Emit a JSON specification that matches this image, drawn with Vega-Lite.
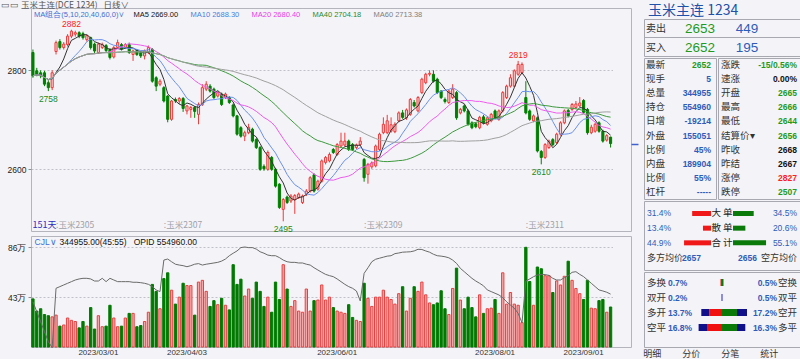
{
"$schema": "https://vega.github.io/schema/vega-lite/v6.json",
"background": "#f4f4f8",
"padding": 0,
"spacing": 3,
"config": {"font": "Liberation Sans", "view": {"stroke": null}, "axis": {"labelFont": "Liberation Sans"}},
"datasets": {
"k": [
{"d":"2023/02/06","o":2836,"h":2842,"l":2785,"c":2789,"v":415000,"oi":518000},
{"d":"2023/02/07","o":2799,"h":2805,"l":2788,"c":2792,"v":310000,"oi":470000},
{"d":"2023/02/08","o":2795,"h":2800,"l":2784,"c":2789,"v":330000,"oi":422000},
{"d":"2023/02/09","o":2795,"h":2799,"l":2768,"c":2772,"v":280000,"oi":374000},
{"d":"2023/02/10","o":2775,"h":2780,"l":2758,"c":2765,"v":270000,"oi":326000},
{"d":"2023/02/13","o":2765,"h":2800,"l":2760,"c":2795,"v":260000,"oi":297000},
{"d":"2023/02/14","o":2838,"h":2860,"l":2832,"c":2856,"v":275000,"oi":583000},
{"d":"2023/02/15","o":2858,"h":2863,"l":2842,"c":2846,"v":180000,"oi":591000},
{"d":"2023/02/16","o":2846,"h":2857,"l":2842,"c":2853,"v":190000,"oi":599000},
{"d":"2023/02/17","o":2852,"h":2873,"l":2848,"c":2869,"v":250000,"oi":607000},
{"d":"2023/02/20","o":2869,"h":2882,"l":2865,"c":2879,"v":230000,"oi":615000},
{"d":"2023/02/21","o":2873,"h":2880,"l":2868,"c":2876,"v":220000,"oi":623000},
{"d":"2023/02/22","o":2876,"h":2879,"l":2865,"c":2869,"v":165000,"oi":628000},
{"d":"2023/02/23","o":2874,"h":2878,"l":2862,"c":2866,"v":220000,"oi":631000},
{"d":"2023/02/24","o":2862,"h":2872,"l":2858,"c":2870,"v":180000,"oi":631000},
{"d":"2023/02/27","o":2866,"h":2868,"l":2842,"c":2846,"v":340000,"oi":628000},
{"d":"2023/02/28","o":2853,"h":2856,"l":2835,"c":2839,"v":155000,"oi":618000},
{"d":"2023/03/01","o":2836,"h":2856,"l":2833,"c":2853,"v":270000,"oi":618000},
{"d":"2023/03/02","o":2846,"h":2856,"l":2843,"c":2852,"v":175000,"oi":631000},
{"d":"2023/03/03","o":2850,"h":2853,"l":2837,"c":2840,"v":180000,"oi":615000},
{"d":"2023/03/06","o":2842,"h":2845,"l":2822,"c":2826,"v":360000,"oi":631000},
{"d":"2023/03/07","o":2827,"h":2849,"l":2824,"c":2846,"v":250000,"oi":623000},
{"d":"2023/03/08","o":2846,"h":2862,"l":2843,"c":2856,"v":175000,"oi":615000},
{"d":"2023/03/09","o":2852,"h":2855,"l":2840,"c":2843,"v":180000,"oi":615000},
{"d":"2023/03/10","o":2846,"h":2855,"l":2843,"c":2852,"v":250000,"oi":615000},
{"d":"2023/03/13","o":2852,"h":2856,"l":2833,"c":2836,"v":290000,"oi":615000},
{"d":"2023/03/14","o":2832,"h":2842,"l":2819,"c":2839,"v":290000,"oi":612000},
{"d":"2023/03/15","o":2840,"h":2843,"l":2829,"c":2832,"v":175000,"oi":612000},
{"d":"2023/03/16","o":2836,"h":2838,"l":2825,"c":2829,"v":185000,"oi":610000},
{"d":"2023/03/17","o":2829,"h":2842,"l":2822,"c":2839,"v":220000,"oi":607000},
{"d":"2023/03/20","o":2836,"h":2850,"l":2833,"c":2846,"v":300000,"oi":602000},
{"d":"2023/03/21","o":2842,"h":2845,"l":2775,"c":2778,"v":540000,"oi":591000},
{"d":"2023/03/22","o":2785,"h":2788,"l":2758,"c":2768,"v":480000,"oi":575000},
{"d":"2023/03/23","o":2772,"h":2782,"l":2768,"c":2778,"v":330000,"oi":567000},
{"d":"2023/03/24","o":2765,"h":2768,"l":2735,"c":2738,"v":590000,"oi":719000},
{"d":"2023/03/27","o":2748,"h":2750,"l":2695,"c":2701,"v":640000,"oi":724000},
{"d":"2023/03/28","o":2701,"h":2740,"l":2698,"c":2738,"v":490000,"oi":711000},
{"d":"2023/03/29","o":2741,"h":2745,"l":2734,"c":2738,"v":370000,"oi":699000},
{"d":"2023/03/30","o":2738,"h":2746,"l":2732,"c":2743,"v":430000,"oi":695000},
{"d":"2023/03/31","o":2743,"h":2746,"l":2716,"c":2723,"v":550000,"oi":692000},
{"d":"2023/04/03","o":2718,"h":2730,"l":2711,"c":2728,"v":530000,"oi":687000},
{"d":"2023/04/04","o":2721,"h":2728,"l":2704,"c":2725,"v":530000,"oi":692000},
{"d":"2023/04/06","o":2725,"h":2728,"l":2704,"c":2717,"v":275000,"oi":699000},
{"d":"2023/04/07","o":2711,"h":2735,"l":2691,"c":2731,"v":560000,"oi":702000},
{"d":"2023/04/10","o":2731,"h":2772,"l":2728,"c":2765,"v":575000,"oi":695000},
{"d":"2023/04/11","o":2762,"h":2778,"l":2758,"c":2772,"v":480000,"oi":699000},
{"d":"2023/04/12","o":2768,"h":2772,"l":2755,"c":2758,"v":350000,"oi":702000},
{"d":"2023/04/13","o":2762,"h":2765,"l":2742,"c":2745,"v":400000,"oi":705000},
{"d":"2023/04/14","o":2748,"h":2758,"l":2745,"c":2755,"v":365000,"oi":708000},
{"d":"2023/04/17","o":2752,"h":2755,"l":2728,"c":2731,"v":420000,"oi":714000},
{"d":"2023/04/18","o":2745,"h":2755,"l":2742,"c":2752,"v":360000,"oi":724000},
{"d":"2023/04/19","o":2745,"h":2748,"l":2732,"c":2735,"v":320000,"oi":740000},
{"d":"2023/04/20","o":2730,"h":2733,"l":2705,"c":2708,"v":710000,"oi":752000},
{"d":"2023/04/21","o":2708,"h":2710,"l":2668,"c":2671,"v":540000,"oi":763000},
{"d":"2023/04/24","o":2684,"h":2687,"l":2664,"c":2667,"v":585000,"oi":779000},
{"d":"2023/04/25","o":2667,"h":2678,"l":2657,"c":2674,"v":440000,"oi":782000},
{"d":"2023/04/26","o":2674,"h":2692,"l":2671,"c":2685,"v":500000,"oi":779000},
{"d":"2023/04/27","o":2681,"h":2684,"l":2654,"c":2657,"v":420000,"oi":779000},
{"d":"2023/04/28","o":2660,"h":2663,"l":2641,"c":2644,"v":560000,"oi":772000},
{"d":"2023/05/04","o":2644,"h":2647,"l":2597,"c":2600,"v":480000,"oi":759000},
{"d":"2023/05/05","o":2606,"h":2610,"l":2597,"c":2601,"v":350000,"oi":752000},
{"d":"2023/05/08","o":2600,"h":2638,"l":2597,"c":2634,"v":430000,"oi":743000},
{"d":"2023/05/09","o":2624,"h":2627,"l":2597,"c":2600,"v":300000,"oi":740000},
{"d":"2023/05/10","o":2600,"h":2603,"l":2563,"c":2566,"v":560000,"oi":740000},
{"d":"2023/05/11","o":2570,"h":2572,"l":2520,"c":2523,"v":410000,"oi":731000},
{"d":"2023/05/12","o":2519,"h":2542,"l":2495,"c":2539,"v":710000,"oi":719000},
{"d":"2023/05/15","o":2544,"h":2547,"l":2530,"c":2533,"v":500000,"oi":711000},
{"d":"2023/05/16","o":2536,"h":2550,"l":2532,"c":2546,"v":350000,"oi":708000},
{"d":"2023/05/17","o":2539,"h":2550,"l":2510,"c":2547,"v":400000,"oi":708000},
{"d":"2023/05/18","o":2543,"h":2553,"l":2540,"c":2550,"v":310000,"oi":705000},
{"d":"2023/05/19","o":2533,"h":2549,"l":2530,"c":2546,"v":300000,"oi":705000},
{"d":"2023/05/22","o":2550,"h":2560,"l":2546,"c":2556,"v":500000,"oi":699000},
{"d":"2023/05/23","o":2556,"h":2586,"l":2553,"c":2583,"v":310000,"oi":695000},
{"d":"2023/05/24","o":2589,"h":2592,"l":2553,"c":2556,"v":400000,"oi":682000},
{"d":"2023/05/25","o":2560,"h":2579,"l":2557,"c":2576,"v":405000,"oi":671000},
{"d":"2023/05/26","o":2576,"h":2620,"l":2573,"c":2617,"v":535000,"oi":660000},
{"d":"2023/05/29","o":2614,"h":2627,"l":2610,"c":2624,"v":405000,"oi":650000},
{"d":"2023/05/30","o":2617,"h":2634,"l":2614,"c":2630,"v":430000,"oi":644000},
{"d":"2023/05/31","o":2640,"h":2643,"l":2631,"c":2634,"v":340000,"oi":639000},
{"d":"2023/06/01","o":2630,"h":2653,"l":2627,"c":2650,"v":310000,"oi":628000},
{"d":"2023/06/02","o":2647,"h":2674,"l":2644,"c":2657,"v":300000,"oi":615000},
{"d":"2023/06/05","o":2649,"h":2674,"l":2646,"c":2657,"v":290000,"oi":602000},
{"d":"2023/06/06","o":2657,"h":2660,"l":2637,"c":2640,"v":365000,"oi":591000},
{"d":"2023/06/07","o":2650,"h":2653,"l":2637,"c":2640,"v":255000,"oi":583000},
{"d":"2023/06/08","o":2644,"h":2652,"l":2641,"c":2649,"v":230000,"oi":570000},
{"d":"2023/06/09","o":2650,"h":2665,"l":2647,"c":2657,"v":220000,"oi":522000},
{"d":"2023/06/12","o":2620,"h":2623,"l":2575,"c":2583,"v":550000,"oi":655000},
{"d":"2023/06/13","o":2590,"h":2613,"l":2571,"c":2610,"v":420000,"oi":682000},
{"d":"2023/06/14","o":2605,"h":2616,"l":2601,"c":2613,"v":350000,"oi":711000},
{"d":"2023/06/15","o":2607,"h":2650,"l":2604,"c":2647,"v":430000,"oi":723000},
{"d":"2023/06/16","o":2640,"h":2674,"l":2637,"c":2671,"v":430000,"oi":728000},
{"d":"2023/06/19","o":2674,"h":2705,"l":2671,"c":2691,"v":490000,"oi":733000},
{"d":"2023/06/20","o":2674,"h":2710,"l":2671,"c":2698,"v":430000,"oi":738000},
{"d":"2023/06/21","o":2677,"h":2705,"l":2674,"c":2690,"v":410000,"oi":740000},
{"d":"2023/06/26","o":2676,"h":2695,"l":2673,"c":2691,"v":370000,"oi":750000},
{"d":"2023/06/27","o":2698,"h":2717,"l":2695,"c":2714,"v":460000,"oi":753000},
{"d":"2023/06/28","o":2714,"h":2720,"l":2702,"c":2705,"v":520000,"oi":757000},
{"d":"2023/06/29","o":2704,"h":2723,"l":2700,"c":2720,"v":310000,"oi":758000},
{"d":"2023/06/30","o":2711,"h":2744,"l":2708,"c":2741,"v":420000,"oi":759000},
{"d":"2023/07/03","o":2735,"h":2740,"l":2725,"c":2728,"v":520000,"oi":763000},
{"d":"2023/07/04","o":2718,"h":2748,"l":2715,"c":2745,"v":480000,"oi":771000},
{"d":"2023/07/05","o":2755,"h":2785,"l":2752,"c":2782,"v":560000,"oi":770000},
{"d":"2023/07/06","o":2775,"h":2795,"l":2772,"c":2792,"v":450000,"oi":763000},
{"d":"2023/07/07","o":2792,"h":2800,"l":2788,"c":2794,"v":380000,"oi":757000},
{"d":"2023/07/10","o":2792,"h":2800,"l":2775,"c":2778,"v":365000,"oi":747000},
{"d":"2023/07/11","o":2782,"h":2785,"l":2752,"c":2755,"v":380000,"oi":740000},
{"d":"2023/07/12","o":2758,"h":2760,"l":2742,"c":2745,"v":485000,"oi":738000},
{"d":"2023/07/13","o":2741,"h":2745,"l":2733,"c":2737,"v":330000,"oi":735000},
{"d":"2023/07/14","o":2735,"h":2761,"l":2732,"c":2758,"v":280000,"oi":730000},
{"d":"2023/07/17","o":2745,"h":2772,"l":2742,"c":2762,"v":505000,"oi":719000},
{"d":"2023/07/18","o":2755,"h":2758,"l":2700,"c":2704,"v":680000,"oi":703000},
{"d":"2023/07/19","o":2714,"h":2724,"l":2711,"c":2721,"v":405000,"oi":679000},
{"d":"2023/07/20","o":2728,"h":2731,"l":2715,"c":2718,"v":330000,"oi":663000},
{"d":"2023/07/21","o":2718,"h":2721,"l":2688,"c":2691,"v":430000,"oi":647000},
{"d":"2023/07/24","o":2694,"h":2697,"l":2681,"c":2684,"v":340000,"oi":631000},
{"d":"2023/07/25","o":2692,"h":2695,"l":2683,"c":2686,"v":260000,"oi":618000},
{"d":"2023/07/26","o":2684,"h":2708,"l":2681,"c":2705,"v":450000,"oi":607000},
{"d":"2023/07/27","o":2706,"h":2710,"l":2691,"c":2694,"v":290000,"oi":595000},
{"d":"2023/07/28","o":2691,"h":2707,"l":2688,"c":2704,"v":330000,"oi":575000},
{"d":"2023/07/31","o":2698,"h":2714,"l":2695,"c":2711,"v":335000,"oi":567000},
{"d":"2023/08/01","o":2718,"h":2721,"l":2701,"c":2704,"v":410000,"oi":559000},
{"d":"2023/08/02","o":2701,"h":2721,"l":2698,"c":2718,"v":290000,"oi":551000},
{"d":"2023/08/03","o":2718,"h":2758,"l":2715,"c":2755,"v":640000,"oi":538000},
{"d":"2023/08/04","o":2745,"h":2771,"l":2742,"c":2768,"v":370000,"oi":518000},
{"d":"2023/08/07","o":2768,"h":2792,"l":2765,"c":2785,"v":470000,"oi":502000},
{"d":"2023/08/08","o":2768,"h":2802,"l":2765,"c":2799,"v":370000,"oi":487000},
{"d":"2023/08/09","o":2792,"h":2819,"l":2789,"c":2812,"v":360000,"oi":462000},
{"d":"2023/08/10","o":2795,"h":2816,"l":2792,"c":2812,"v":210000,"oi":417000},
{"d":"2023/08/11","o":2745,"h":2778,"l":2711,"c":2714,"v":860000,"oi":618000},
{"d":"2023/08/14","o":2718,"h":2721,"l":2698,"c":2701,"v":565000,"oi":628000},
{"d":"2023/08/15","o":2698,"h":2711,"l":2695,"c":2708,"v":360000,"oi":639000},
{"d":"2023/08/16","o":2704,"h":2707,"l":2634,"c":2637,"v":690000,"oi":647000},
{"d":"2023/08/17","o":2636,"h":2639,"l":2610,"c":2624,"v":675000,"oi":649000},
{"d":"2023/08/18","o":2624,"h":2653,"l":2621,"c":2650,"v":615000,"oi":649000},
{"d":"2023/08/21","o":2644,"h":2660,"l":2641,"c":2657,"v":615000,"oi":645000},
{"d":"2023/08/22","o":2660,"h":2663,"l":2647,"c":2650,"v":470000,"oi":631000},
{"d":"2023/08/23","o":2654,"h":2674,"l":2651,"c":2671,"v":570000,"oi":623000},
{"d":"2023/08/24","o":2671,"h":2697,"l":2668,"c":2694,"v":535000,"oi":623000},
{"d":"2023/08/25","o":2694,"h":2721,"l":2691,"c":2718,"v":610000,"oi":634000},
{"d":"2023/08/28","o":2719,"h":2722,"l":2705,"c":2708,"v":740000,"oi":644000},
{"d":"2023/08/29","o":2721,"h":2734,"l":2718,"c":2731,"v":575000,"oi":660000},
{"d":"2023/08/30","o":2725,"h":2738,"l":2722,"c":2732,"v":505000,"oi":663000},
{"d":"2023/08/31","o":2728,"h":2746,"l":2725,"c":2734,"v":460000,"oi":650000},
{"d":"2023/09/01","o":2739,"h":2742,"l":2712,"c":2715,"v":410000,"oi":639000},
{"d":"2023/09/04","o":2721,"h":2724,"l":2670,"c":2674,"v":575000,"oi":623000},
{"d":"2023/09/05","o":2674,"h":2690,"l":2671,"c":2685,"v":335000,"oi":607000},
{"d":"2023/09/06","o":2677,"h":2694,"l":2674,"c":2691,"v":330000,"oi":591000},
{"d":"2023/09/07","o":2694,"h":2697,"l":2674,"c":2677,"v":400000,"oi":575000},
{"d":"2023/09/08","o":2677,"h":2680,"l":2654,"c":2657,"v":410000,"oi":570000},
{"d":"2023/09/11","o":2659,"h":2671,"l":2656,"c":2668,"v":300000,"oi":564000},
{"d":"2023/09/12","o":2665,"h":2666,"l":2644,"c":2652,"v":344955,"oi":554960}
],
"ma": [
{"k":"m5","label":"MA5 2669.00"},{"k":"m10","label":"MA10 2688.30"},{"k":"m20","label":"MA20 2680.40"},{"k":"m40","label":"MA40 2704.18"},{"k":"m60","label":"MA60 2713.38"}
],
"ext": [
{"d":"2023/02/20","p":2882,"t":"H"},{"d":"2023/08/09","p":2819,"t":"H"},{"d":"2023/02/10","p":2758,"t":"L"},{"d":"2023/05/12","p":2495,"t":"L"},{"d":"2023/08/17","p":2610,"t":"L"}
],
"tbl": [
{"side":"L","row":1,"k":"最新","v":"2652","t":"g"},
{"side":"L","row":2,"k":"现手","v":"5","t":"b"},
{"side":"L","row":3,"k":"总量","v":"344955","t":"b"},
{"side":"L","row":4,"k":"持仓","v":"554960","t":"b"},
{"side":"L","row":5,"k":"日增","v":"-19214","t":"b"},
{"side":"L","row":6,"k":"外盘","v":"155051","t":"b"},
{"side":"L","row":7,"k":"比例","v":"45%","t":"b"},
{"side":"L","row":8,"k":"内盘","v":"189904","t":"b"},
{"side":"L","row":9,"k":"比例","v":"55%","t":"b"},
{"side":"L","row":10,"k":"杠杆","v":"-----","t":"b"},
{"side":"R","row":1,"k":"涨跌","v":"-15/0.56%","t":"g"},
{"side":"R","row":2,"k":"速涨","v":"0.00%","t":"k"},
{"side":"R","row":3,"k":"开盘","v":"2665","t":"g"},
{"side":"R","row":4,"k":"最高","v":"2666","t":"g"},
{"side":"R","row":5,"k":"最低","v":"2644","t":"g"},
{"side":"R","row":6,"k":"结算价▾","v":"2656","t":"g"},
{"side":"R","row":7,"k":"昨收","v":"2668","t":"k"},
{"side":"R","row":8,"k":"昨结","v":"2667","t":"k"},
{"side":"R","row":9,"k":"涨停","v":"2827","t":"r"},
{"side":"R","row":10,"k":"跌停","v":"2507","t":"g"}
],
"ord": [
{"r":"大单","n":"大 单","b":0.314,"s":0.345},
{"r":"散单","n":"散 单","b":0.134,"s":0.206},
{"r":"合计","n":"合 计","b":0.449,"s":0.551},
{"r":"均价","a":"多方均价","av":2657,"bv":2656,"bl":"空方均价"}
],
"pos": [
{"r":"多换","lv":0.007,"rv":0.005,"rl":"空换"},
{"r":"双开","lv":0.002,"rv":0.005,"rl":"双平"},
{"r":"多开","lv":0.137,"rv":0.172,"rl":"空开"},
{"r":"空平","lv":0.168,"rv":0.163,"rl":"多平"}
],
"seg": [
{"r":"多换","a":-1.5,"b":0,"k":"r"},{"r":"多换","a":0,"b":1.5,"k":"g"},
{"r":"双开","a":-1,"b":1,"k":"p"},
{"r":"多开","a":-20.7,"b":-12.4,"k":"n"},{"r":"多开","a":-12.4,"b":0,"k":"r"},{"r":"多开","a":0,"b":15,"k":"g"},{"r":"多开","a":15,"b":25,"k":"n"},
{"r":"空平","a":-23.4,"b":-15,"k":"n"},{"r":"空平","a":-15,"b":0,"k":"r"},{"r":"空平","a":0,"b":15,"k":"g"},{"r":"空平","a":15,"b":23.3,"k":"n"}
]
},
"hconcat": [
{
"spacing": 0,
"vconcat": [
{
"title": {"text": "▭▭ 玉米主连(DCE 1234)\u00a0\u00a0\u00a0日线∨", "anchor": "start", "fontSize": 8.5, "font": "Noto Sans CJK SC", "fontWeight": "normal", "color": "#555555", "offset": 1, "dy": 2, "frame": "bounds"},
"width": 600, "height": 223,
"view": {"stroke": "#b4b4bc"},
"data": {"name": "k"},
"encoding": {
"x": {"field": "d", "type": "ordinal", "scale": {"range": [0, 581.5], "paddingInner": 0, "paddingOuter": 0},
"axis": {"values": ["2023/02/14","2023/03/24","2023/06/12","2023/08/11"],
"labelExpr": "datum.value=='2023/02/14'?':玉米2305':datum.value=='2023/03/24'?':玉米2307':datum.value=='2023/06/12'?':玉米2309':':玉米2311'",
"bandPosition": 0, "ticks": false, "domain": false, "grid": false, "labelPadding": -11, "labelAlign": "left", "labelBaseline": "top", "labelAngle": 0,
"labelColor": "#a0a0a8", "labelFontSize": 8.5, "labelFont": "Noto Sans CJK SC", "labelOverlap": false, "labelFlush": false, "minExtent": 0, "maxExtent": 0,
"title": "151天", "titleX": 1, "titleY": -11, "titleAlign": "left", "titleBaseline": "top", "titleColor": "#2c2cc0", "titleFontSize": 9, "titleFontWeight": "normal", "titleFont": "Noto Sans CJK SC"}}
},
"layer": [
{"mark": {"type": "rule", "strokeWidth": 1},
"encoding": {
"y": {"field": "l", "type": "quantitative", "scale": {"domain": [2475.4, 2925.9], "nice": false, "zero": false},
"axis": {"orient": "left", "values": [2600, 2800], "format": "d", "grid": true, "gridDash": [2, 2], "gridColor": "#c0c0c8", "domain": false, "ticks": true, "tickSize": 3, "tickColor": "#909090", "labelFontSize": 8.5, "labelColor": "#222222", "labelPadding": 2, "title": null, "minExtent": 30, "maxExtent": 30}},
"y2": {"field": "h"},
"stroke": {"condition": {"test": "datum.c >= datum.o", "value": "#ee3a3a"}, "value": "#008000"}
}},
{"mark": {"type": "bar", "width": {"band": 0.55}, "strokeWidth": 1},
"encoding": {
"y": {"field": "o", "type": "quantitative", "scale": {"domain": [2475.4, 2925.9], "nice": false, "zero": false},
"axis": {"orient": "right", "values": [2652], "labels": false, "domain": false, "grid": false, "ticks": true, "tickSize": 7, "tickWidth": 1.5, "tickColor": "#4060d0", "title": null, "minExtent": 7, "maxExtent": 7}},
"y2": {"field": "c"},
"fill": {"condition": {"test": "datum.c >= datum.o", "value": "#fbd0d0"}, "value": "#008000"},
"stroke": {"condition": {"test": "datum.c >= datum.o", "value": "#ee3a3a"}, "value": "#008000"}
}},
{"transform": [
{"window": [{"op": "mean", "field": "c", "as": "m5"}], "frame": [-4, 0], "sort": [{"field": "d"}]},
{"window": [{"op": "mean", "field": "c", "as": "m10"}], "frame": [-9, 0], "sort": [{"field": "d"}]},
{"window": [{"op": "mean", "field": "c", "as": "m20"}], "frame": [-19, 0], "sort": [{"field": "d"}]},
{"window": [{"op": "mean", "field": "c", "as": "m40"}], "frame": [-39, 0], "sort": [{"field": "d"}]},
{"window": [{"op": "mean", "field": "c", "as": "m60"}], "frame": [-59, 0], "sort": [{"field": "d"}]},
{"fold": ["m5", "m10", "m20", "m40", "m60"], "as": ["k", "val"]},
{"lookup": "k", "from": {"data": {"name": "ma"}, "key": "k", "fields": ["label"]}}
],
"mark": {"type": "line", "strokeWidth": 1},
"encoding": {
"y": {"field": "val", "type": "quantitative", "scale": {"domain": [2475.4, 2925.9], "nice": false, "zero": false}, "axis": null},
"color": {"field": "label", "type": "nominal",
"scale": {"domain": ["MA5 2669.00","MA10 2688.30","MA20 2680.40","MA40 2704.18","MA60 2713.38"], "range": ["#333333","#6a90ec","#ee5aee","#3c9a3c","#a0a0a0"]},
"legend": {"orient": "none", "legendX": 3, "legendY": 3, "direction": "horizontal", "title": "MA组合(5,10,20,40,60,0)∨", "titleOrient": "left", "titleColor": "#3c6fd6", "titleFontSize": 7.5, "titleFontWeight": "normal", "titlePadding": 1, "titleBaseline": "middle", "titleAnchor": "middle",
"labelFontSize": 7.5, "labelOffset": 0, "symbolSize": 0, "symbolStrokeWidth": 0, "columnPadding": 4, "padding": 0,
"labelColor": {"expr": "datum.value=='MA5 2669.00'?'#111111':datum.value=='MA10 2688.30'?'#4a7ee0':datum.value=='MA20 2680.40'?'#e83ce8':datum.value=='MA40 2704.18'?'#2a8a2a':'#808080'"}}}
}},
{"data": {"name": "ext"}, "transform": [{"filter": "datum.t == 'H'"}],
"mark": {"type": "text", "dy": -6, "fontSize": 8.5, "fill": "#ff2020"},
"encoding": {"y": {"field": "p", "type": "quantitative", "scale": {"domain": [2475.4, 2925.9], "nice": false, "zero": false}, "axis": null}, "text": {"field": "p", "type": "quantitative", "format": "d"}}},
{"data": {"name": "ext"}, "transform": [{"filter": "datum.t == 'L'"}],
"mark": {"type": "text", "dy": 8, "fontSize": 8.5, "fill": "#1a8a1a"},
"encoding": {"y": {"field": "p", "type": "quantitative", "scale": {"domain": [2475.4, 2925.9], "nice": false, "zero": false}, "axis": null}, "text": {"field": "p", "type": "quantitative", "format": "d"}}}
],
"resolve": {"axis": {"y": "independent"}}
},
{
"width": 600, "height": 111,
"view": {"stroke": "#b4b4bc"},
"data": {"name": "k"},
"encoding": {
"x": {"field": "d", "type": "ordinal", "scale": {"range": [0, 581.5], "paddingInner": 0, "paddingOuter": 0},
"axis": {"values": ["2023/03/01","2023/04/03","2023/06/01","2023/08/01","2023/09/01"], "ticks": false, "domain": false, "grid": false, "labelAngle": 0, "labelFontSize": 8, "labelColor": "#333333", "labelPadding": 1, "labelOverlap": false, "title": null}}
},
"layer": [
{"mark": {"type": "bar", "width": {"band": 0.6}, "strokeWidth": 1},
"encoding": {
"y": {"field": "v", "type": "quantitative", "scale": {"domain": [0, 957500], "nice": false},
"axis": {"orient": "left", "values": [430000, 860000], "labelExpr": "(datum.value/10000) + '万'", "grid": true, "gridDash": [2, 2], "gridColor": "#c0c0c8", "domain": false, "tickSize": 3, "tickColor": "#909090", "labelFontSize": 8.5, "labelColor": "#222222", "labelPadding": 2, "minExtent": 30, "maxExtent": 30,
"title": "CJL∨", "titleAngle": 0, "titleX": 3, "titleY": 5, "titleAlign": "left", "titleBaseline": "middle", "titleColor": "#3c6fd6", "titleFontSize": 8.5, "titleFontWeight": "normal"}},
"fill": {"condition": {"test": "datum.c >= datum.o", "value": "#f6a8a8"}, "value": "#007a00"},
"stroke": {"condition": {"test": "datum.c >= datum.o", "value": "#e84040"}, "value": "#007a00"}
}},
{"mark": {"type": "line", "strokeWidth": 1, "color": "#6a6a6a"},
"encoding": {
"y": {"field": "oi", "type": "quantitative", "scale": {"domain": [300000, 835000], "nice": false, "zero": false},
"axis": {"orient": "right", "labels": false, "ticks": false, "domain": false, "grid": false, "title": "344955.00(45:55)\u00a0\u00a0\u00a0OPID 554960.00", "titleAngle": 0, "titleX": -572, "titleY": 5, "titleAlign": "left", "titleBaseline": "middle", "titleColor": "#111111", "titleFontSize": 8.5, "titleFontWeight": "normal", "minExtent": 0, "maxExtent": 0}}
}}
],
"resolve": {"scale": {"y": "independent"}}
}
]
},
{
"spacing": 0,
"vconcat": [
{"width": 156, "height": 8, "data": {"values": [{"name": "玉米主连\u00a01234"}]},
"mark": {"type": "text", "align": "left", "dx": -74, "dy": -1, "fontSize": 14, "font": "Noto Sans CJK SC", "fill": "#2050a8"},
"encoding": {"text": {"field": "name"}}},
{"width": 156, "height": 37, "view": {"stroke": "#a8a8b0"},
"data": {"values": [{"r": "卖出", "p": 2653, "q": 449}, {"r": "买入", "p": 2652, "q": 195}]},
"encoding": {"y": {"field": "r", "type": "nominal", "scale": {"domain": ["卖出", "买入"], "paddingInner": 0, "paddingOuter": 0}, "axis": null}},
"layer": [
{"mark": {"type": "text", "align": "left", "dx": -76, "dy": 1, "fontSize": 10, "font": "Noto Sans CJK SC", "fill": "#333333"}, "encoding": {"text": {"field": "r"}}},
{"mark": {"type": "text", "align": "center", "dx": -22, "dy": 1, "fontSize": 13.5, "fill": "#1f9a1f"}, "encoding": {"text": {"field": "p", "type": "quantitative", "format": "d"}}},
{"mark": {"type": "text", "align": "center", "dx": 25, "dy": 1, "fontSize": 13.5, "fill": "#2e5cb8"}, "encoding": {"text": {"field": "q", "type": "quantitative", "format": "d"}}},
{"transform": [{"filter": "datum.r == '卖出'"}], "mark": {"type": "rule", "color": "#a8a8b0"}, "encoding": {"y": {"field": "r", "type": "nominal", "bandPosition": 1}}}
]},
{"spacing": 0, "hconcat": [
{"width": 72, "height": 141, "view": {"stroke": "#a8a8b0"}, "data": {"name": "tbl"}, "transform": [{"filter": "datum.side == 'L'"}],
"encoding": {"y": {"field": "row", "type": "ordinal", "scale": {"paddingInner": 0, "paddingOuter": 0}, "axis": null}},
"layer": [
{"mark": {"type": "text", "align": "left", "dx": -34, "fontSize": 9.5, "font": "Noto Sans CJK SC", "fill": "#333333"}, "encoding": {"text": {"field": "k"}}},
{"mark": {"type": "text", "align": "right", "dx": 31, "fontSize": 8.5, "fontWeight": "bold"}, "encoding": {"text": {"field": "v"},
"fill": {"condition": [{"test": "datum.t == 'g'", "value": "#1f9a1f"}, {"test": "datum.t == 'r'", "value": "#ff2020"}, {"test": "datum.t == 'k'", "value": "#111111"}], "value": "#2e5cb8"}}}
]},
{"width": 84, "height": 141, "view": {"stroke": "#a8a8b0"}, "data": {"name": "tbl"}, "transform": [{"filter": "datum.side == 'R'"}],
"encoding": {"y": {"field": "row", "type": "ordinal", "scale": {"paddingInner": 0, "paddingOuter": 0}, "axis": null}},
"layer": [
{"mark": {"type": "text", "align": "left", "dx": -39, "fontSize": 9.5, "font": "Noto Sans CJK SC", "fill": "#333333"}, "encoding": {"text": {"field": "k"}}},
{"mark": {"type": "text", "align": "right", "dx": 37, "fontSize": 8.5, "fontWeight": "bold"}, "encoding": {"text": {"field": "v"},
"fill": {"condition": [{"test": "datum.t == 'g'", "value": "#1f9a1f"}, {"test": "datum.t == 'r'", "value": "#ff2020"}, {"test": "datum.t == 'k'", "value": "#111111"}], "value": "#2e5cb8"}}}
]}
]},
{"width": 156, "height": 69, "view": {"stroke": "#a8a8b0"}, "data": {"name": "ord"},
"encoding": {"y": {"field": "r", "type": "nominal", "scale": {"domain": ["大单", "散单", "合计", "均价"], "paddingInner": 0, "paddingOuter": 0.35}, "axis": null}},
"layer": [
{"transform": [{"filter": "isValid(datum.b)"}], "mark": {"type": "bar", "height": 5, "fill": "#f01818"},
"encoding": {"x": {"field": "b", "type": "quantitative", "scale": {"domain": [0, 1], "range": [67, 7]}, "axis": null}, "x2": {"datum": 0}}},
{"transform": [{"filter": "isValid(datum.s)"}], "mark": {"type": "bar", "height": 5, "fill": "#0a7a0a"},
"encoding": {"x": {"field": "s", "type": "quantitative", "scale": {"domain": [0, 1], "range": [89, 149]}, "axis": null}, "x2": {"datum": 0}}},
{"transform": [{"filter": "isValid(datum.b)"}], "mark": {"type": "text", "align": "left", "dx": -75, "fontSize": 8.5, "fill": "#2e5cb8"}, "encoding": {"text": {"field": "b", "type": "quantitative", "format": ".1%"}}},
{"transform": [{"filter": "isValid(datum.s)"}], "mark": {"type": "text", "align": "right", "dx": 75, "fontSize": 8.5, "fill": "#2e5cb8"}, "encoding": {"text": {"field": "s", "type": "quantitative", "format": ".1%"}}},
{"transform": [{"filter": "isValid(datum.n)"}], "mark": {"type": "text", "align": "center", "fontSize": 9.5, "font": "Noto Sans CJK SC", "fill": "#222222"}, "encoding": {"text": {"field": "n"}}},
{"transform": [{"filter": "isValid(datum.a)"}], "mark": {"type": "text", "align": "left", "dx": -75, "fontSize": 9, "font": "Noto Sans CJK SC", "fill": "#333333"}, "encoding": {"text": {"field": "a"}}},
{"transform": [{"filter": "isValid(datum.av)"}], "mark": {"type": "text", "align": "left", "dx": -40, "fontSize": 8.5, "fontWeight": "bold", "fill": "#2e5cb8"}, "encoding": {"text": {"field": "av", "type": "quantitative", "format": "d"}}},
{"transform": [{"filter": "isValid(datum.bv)"}], "mark": {"type": "text", "align": "right", "dx": 35, "fontSize": 8.5, "fontWeight": "bold", "fill": "#2e5cb8"}, "encoding": {"text": {"field": "bv", "type": "quantitative", "format": "d"}}},
{"transform": [{"filter": "isValid(datum.bl)"}], "mark": {"type": "text", "align": "right", "dx": 75, "fontSize": 9, "font": "Noto Sans CJK SC", "fill": "#333333"}, "encoding": {"text": {"field": "bl"}}}
],
"resolve": {"scale": {"x": "independent"}}
},
{"width": 156, "height": 75, "view": {"stroke": "#a8a8b0"},
"encoding": {"y": {"field": "r", "type": "nominal", "scale": {"domain": ["多换", "双开", "多开", "空平"], "paddingInner": 0, "paddingOuter": 0.5, "align": 0.2}, "axis": null}},
"layer": [
{"data": {"name": "seg"}, "mark": {"type": "bar", "height": 7},
"encoding": {"x": {"field": "a", "type": "quantitative", "scale": {"domain": [-78, 78], "nice": false, "zero": false}, "axis": null}, "x2": {"field": "b"},
"fill": {"condition": [{"test": "datum.k == 'n'", "value": "#10108a"}, {"test": "datum.k == 'r'", "value": "#f01010"}, {"test": "datum.k == 'p'", "value": "#8c8ce0"}], "value": "#0a7a0a"}}},
{"data": {"name": "pos"}, "mark": {"type": "text", "align": "left", "dx": -75, "fontSize": 9.5, "font": "Noto Sans CJK SC", "fill": "#333333"}, "encoding": {"text": {"field": "r"}}},
{"data": {"name": "pos"}, "mark": {"type": "text", "align": "left", "dx": -54, "fontSize": 8.5, "fontWeight": "bold", "fill": "#2e5cb8"}, "encoding": {"text": {"field": "lv", "type": "quantitative", "format": ".1%"}}},
{"data": {"name": "pos"}, "mark": {"type": "text", "align": "right", "dx": 55, "fontSize": 8.5, "fontWeight": "bold", "fill": "#2e5cb8"}, "encoding": {"text": {"field": "rv", "type": "quantitative", "format": ".1%"}}},
{"data": {"name": "pos"}, "mark": {"type": "text", "align": "right", "dx": 75, "fontSize": 9.5, "font": "Noto Sans CJK SC", "fill": "#333333"}, "encoding": {"text": {"field": "rl"}}}
]},
{"width": 156, "height": 12, "data": {"values": [{"t": "明细"}, {"t": "分价"}, {"t": "分笔"}, {"t": "统计"}]},
"mark": {"type": "text", "fontSize": 9, "font": "Noto Sans CJK SC", "fill": "#333333"},
"encoding": {"x": {"field": "t", "type": "nominal", "scale": {"domain": ["明细", "分价", "分笔", "统计"], "paddingInner": 0, "paddingOuter": 0.69, "align": 0.21}, "axis": null}, "text": {"field": "t"}}}
]
}
]
}
